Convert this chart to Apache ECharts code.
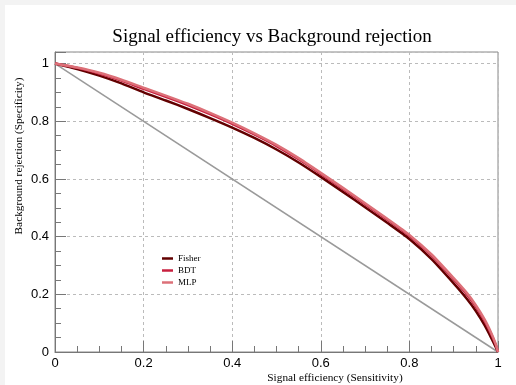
<!DOCTYPE html>
<html>
<head>
<meta charset="utf-8">
<script src="https://cdn.jsdelivr.net/npm/echarts@6/dist/echarts.min.js"></script>
<style>
  html, body { margin: 0; padding: 0; background: #f3f3f3; }
  #chart { position: absolute; left: 5px; top: 5px; width: 511px; height: 380px; background: #fff; }
</style>
</head>
<body>
<div id="chart"></div>
<script>
// signal efficiency (x) sampled points
const effX = [0, 0.05, 0.1, 0.15, 0.2, 0.25, 0.3, 0.35, 0.4, 0.45, 0.5, 0.55, 0.6, 0.65, 0.7, 0.75, 0.8, 0.85, 0.9, 0.93, 0.95, 0.97, 0.985, 0.995, 1]

// background rejection per method
const fisher = [1, 0.981, 0.958, 0.931, 0.900, 0.872, 0.8425, 0.811, 0.778, 0.742, 0.702, 0.657, 0.607, 0.555, 0.502, 0.448, 0.392, 0.322, 0.238, 0.184, 0.142, 0.092, 0.048, 0.017, 0]
const bdt    = [1, 0.985, 0.9655, 0.941, 0.912, 0.885, 0.856, 0.8245, 0.791, 0.754, 0.714, 0.668, 0.6175, 0.5655, 0.5125, 0.4585, 0.4025, 0.334, 0.2515, 0.199, 0.157, 0.107, 0.061, 0.0245, 0]
const mlp    = [1, 0.986, 0.968, 0.944, 0.916, 0.889, 0.8605, 0.829, 0.795, 0.758, 0.718, 0.672, 0.621, 0.569, 0.516, 0.462, 0.406, 0.338, 0.256, 0.204, 0.162, 0.112, 0.065, 0.027, 0]

// random guess diagonal
const diagX = [0, 1]
const diagY = [1, 0]

const xTicks = [0, 0.2, 0.4, 0.6, 0.8, 1]

const pairs = (xs, ys) => xs.map((x, i) => [x, ys[i]])

const chart = echarts.init(document.getElementById("chart"))

const serif = "Liberation Serif"
const sans = "Liberation Sans"

const curve = (name, ys, color) => ({
  name: name,
  type: "line",
  data: pairs(effX, ys),
  smooth: 0.2,
  symbol: "none",
  lineStyle: { color: color, width: 2.5 },
  itemStyle: { color: color },
})

const option = {
  animation: false,
  title: {
    text: "Signal efficiency vs Background rejection",
    left: 262,
    top: 18,
    textAlign: "center",
    textStyle: { fontFamily: serif, fontSize: 19, fontWeight: "normal", color: "#000" },
  },
  legend: {
    data: ["Fisher", "BDT", "MLP"],
    orient: "vertical",
    left: 152,
    top: 244,
    icon: "rect",
    itemWidth: 11,
    itemHeight: 2.5,
    itemGap: 3,
    textStyle: { fontFamily: serif, fontSize: 9, color: "#000" },
  },
  grid: {
    left: 50,
    right: 18,
    top: 47,
    bottom: 33,
    show: true,
    borderColor: "#888",
    borderWidth: 1,
  },
  xAxis: {
    type: "value",
    min: 0,
    max: 1,
    interval: 0.2,
    axisLine: { lineStyle: { color: "#777" } },
    axisTick: { inside: true, length: 11, lineStyle: { color: "#777" } },
    minorTick: { show: true, splitNumber: 4, length: 6, lineStyle: { color: "#777" } },
    axisLabel: {
      margin: 5,
      fontFamily: sans,
      fontSize: 13,
      color: "#000",
      formatter: (v) => (xTicks.includes(Math.round(v * 10) / 10) ? String(+v.toFixed(1)) : ""),
    },
    splitLine: { lineStyle: { color: "#bbb", type: [3, 3] } },
  },
  yAxis: {
    type: "value",
    min: 0,
    max: 1.04,
    interval: 0.2,
    axisLine: { show: true, lineStyle: { color: "#777" } },
    axisTick: { show: true, inside: true, length: 11, lineStyle: { color: "#777" } },
    minorTick: { show: true, splitNumber: 4, length: 6, lineStyle: { color: "#777" } },
    axisLabel: {
      margin: 6,
      showMaxLabel: false,
      fontFamily: sans,
      fontSize: 13,
      color: "#000",
      formatter: (v) => (v > 1.001 ? "" : String(+v.toFixed(1))),
    },
    splitLine: { lineStyle: { color: "#bbb", type: [3, 3] } },
  },
  graphic: [
    {
      type: "text",
      x: 14,
      y: 151,
      rotation: Math.PI / 2,
      style: {
        text: "Background rejection (Specificity)",
        font: "11.3px 'Liberation Serif'",
        fill: "#000",
        align: "center",
        verticalAlign: "middle",
      },
    },
    {
      type: "text",
      x: 330,
      y: 373,
      style: {
        text: "Signal efficiency (Sensitivity)",
        font: "11.3px 'Liberation Serif'",
        fill: "#000",
        align: "center",
        verticalAlign: "middle",
      },
    },
  ],
  series: [
    {
      name: "Random",
      type: "line",
      data: pairs(diagX, diagY),
      symbol: "none",
      silent: true,
      lineStyle: { color: "#9a9a9a", width: 1.5 },
      itemStyle: { color: "#9a9a9a" },
    },
    curve("Fisher", fisher, "#620000"),
    curve("BDT", bdt, "#c8203f"),
    curve("MLP", mlp, "#dc7078"),
  ],
}

chart.setOption(option)
</script>
</body>
</html>
